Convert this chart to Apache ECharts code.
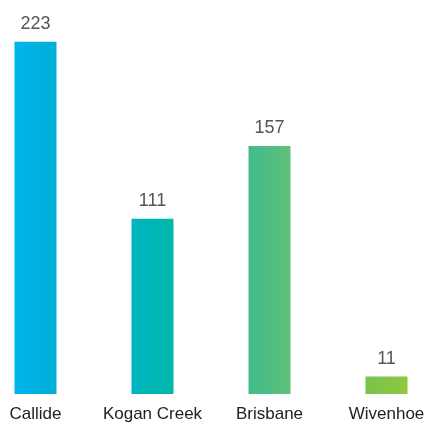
<!DOCTYPE html>
<html><head><meta charset="utf-8">
<script src="https://cdn.jsdelivr.net/npm/echarts@6/dist/echarts.min.js"></script>
<style>html,body{margin:0;padding:0;background:#fff;overflow:hidden;width:427px;height:423px}#c{width:468px;height:423px;margin-left:-23.5px}</style>
</head><body><div id="c"></div>
<script>
const categories = ['Callide', 'Kogan Creek', 'Brisbane', 'Wivenhoe'];
const values = [223, 111, 157, 11];
const colorStops = [
  ['#00b4ee', '#00afd6'],
  ['#00b4c2', '#00b8a8'],
  ['#40bb8c', '#5ec17a'],
  ['#78c34e', '#8fc73f']
];
const chart = echarts.init(document.getElementById('c'), null, {renderer: 'canvas'});
chart.setOption({
  animation: false,
  grid: {left: 0, right: 0, top: 0, bottom: 28, containLabel: false},
  xAxis: {
    type: 'category', data: categories,
    axisLine: {show: false}, axisTick: {show: false},
    axisLabel: {color: '#222', fontSize: 17, fontFamily: 'Liberation Sans, Arial, sans-serif', margin: 12, interval: 0}
  },
  yAxis: {type: 'value', min: 0, max: 249.4, show: false, splitLine: {show: false}},
  series: [{
    type: 'bar', barWidth: 42,
    data: values.map((v, i) => ({
      value: v,
      itemStyle: {color: new echarts.graphic.LinearGradient(0, 0, 1, 0, [
        {offset: 0, color: colorStops[i][0]}, {offset: 1, color: colorStops[i][1]}])}
    })),
    label: {show: true, position: 'top', distance: 9, color: '#555', fontSize: 18,
      fontFamily: 'Liberation Sans, Arial, sans-serif'}
  }]
});
</script></body></html>
